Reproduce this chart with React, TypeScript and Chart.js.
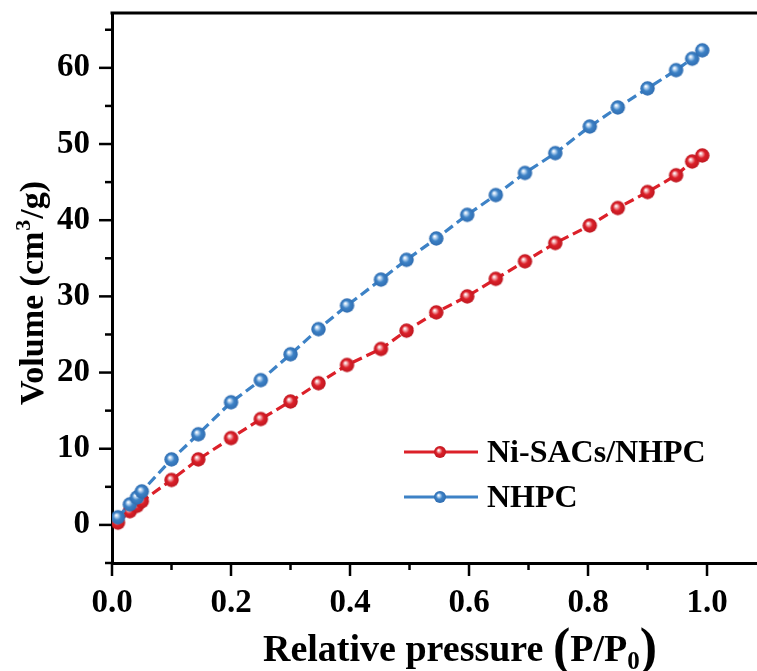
import React, { useEffect, useRef } from "react";
import { Chart, registerables } from "chart.js";

Chart.register(...registerables);

// Relative pressure (P/P0) sampling points, shared by both isotherms
const pressure = [
  0.01, 0.03, 0.042, 0.05, 0.1, 0.145, 0.2, 0.25, 0.3, 0.347, 0.395, 0.452,
  0.495, 0.545, 0.597, 0.645, 0.694, 0.745, 0.803, 0.85, 0.9, 0.948, 0.975, 0.992,
];
// Adsorbed volume (cm3/g)
const niSacsVolume = [
  0.3, 1.8, 2.5, 3.1, 5.9, 8.6, 11.4, 13.9, 16.2, 18.6, 21.0, 23.1, 25.5, 27.9,
  30.0, 32.3, 34.6, 37.0, 39.3, 41.6, 43.7, 45.9, 47.7, 48.5,
];
const nhpcVolume = [
  1.0, 2.7, 3.6, 4.4, 8.6, 11.9, 16.1, 19.0, 22.4, 25.7, 28.8, 32.2, 34.8, 37.6,
  40.7, 43.3, 46.2, 48.8, 52.3, 54.8, 57.3, 59.7, 61.2, 62.3,
];
const seriesNames = ["Ni-SACs/NHPC", "NHPC"];
const xTickValues = [0, 0.1, 0.2, 0.3, 0.4, 0.5, 0.6, 0.7, 0.8, 0.9, 1.0];
const yTickValues = [-5, 0, 5, 10, 15, 20, 25, 30, 35, 40, 45, 50, 55, 60, 65];

const RED = "#dc2029";
const BLUE = "#3d82c6";
const FONT = "'Liberation Serif', 'Times New Roman', serif";

// Shaded ball used as the marker
function sphere(base: string, light: string, dark: string, r: number) {
  const s = Math.ceil(r * 2 + 2);
  const c = document.createElement("canvas");
  c.width = s;
  c.height = s;
  const ctx = c.getContext("2d")!;
  const cx = s / 2;
  const cy = s / 2;
  const g = ctx.createRadialGradient(cx - r * 0.25, cy - r * 0.3, r * 0.05, cx, cy, r);
  g.addColorStop(0, "#ffffff");
  g.addColorStop(0.2, light);
  g.addColorStop(0.5, base);
  g.addColorStop(1, dark);
  ctx.fillStyle = g;
  ctx.beginPath();
  ctx.arc(cx, cy, r, 0, Math.PI * 2);
  ctx.fill();
  return c;
}

export default function App() {
  const ref = useRef<HTMLCanvasElement | null>(null);

  useEffect(() => {
    document.body.style.margin = "0";
    const canvas = ref.current;
    if (!canvas) return;

    const redBall = sphere(RED, "#f2a9ad", "#bd1720", 7.2);
    const blueBall = sphere(BLUE, "#b4d2f0", "#2f6cb0", 7.2);
    const redBallSmall = sphere(RED, "#f2a9ad", "#bd1720", 6);
    const blueBallSmall = sphere(BLUE, "#b4d2f0", "#2f6cb0", 6);

    const frame = {
      id: "frame",
      afterDraw(chart: any) {
        const { ctx, chartArea } = chart;
        const xs = chart.scales.x;
        const ys = chart.scales.y;
        ctx.save();
        ctx.strokeStyle = "#000";
        ctx.lineWidth = 3;
        // top border
        ctx.beginPath();
        ctx.moveTo(chartArea.left - 1.5, chartArea.top);
        ctx.lineTo(chartArea.right, chartArea.top);
        ctx.stroke();
        // x tick marks, outward
        ctx.lineWidth = 2.5;
        xTickValues.forEach((v) => {
          const major = Math.round(v * 10) % 2 === 0;
          const px = xs.getPixelForValue(v);
          ctx.beginPath();
          ctx.moveTo(px, chartArea.bottom);
          ctx.lineTo(px, chartArea.bottom + (major ? 13 : 7));
          ctx.stroke();
        });
        // y tick marks, outward
        yTickValues.forEach((v) => {
          const major = v % 10 === 0;
          const py = ys.getPixelForValue(v);
          ctx.beginPath();
          ctx.moveTo(chartArea.left, py);
          ctx.lineTo(chartArea.left - (major ? 13 : 7), py);
          ctx.stroke();
        });

        // y axis title with superscript
        ctx.fillStyle = "#000";
        ctx.save();
        ctx.translate(43, 293);
        ctx.rotate(-Math.PI / 2);
        ctx.textBaseline = "alphabetic";
        const big = `bold 34px ${FONT}`;
        const sup = `bold 22px ${FONT}`;
        ctx.font = big;
        const p1 = "Volume (cm";
        const p3 = "/g)";
        const w1 = ctx.measureText(p1).width;
        const w3 = ctx.measureText(p3).width;
        ctx.font = sup;
        const w2 = ctx.measureText("3").width + 2;
        const total = w1 + w2 + w3;
        let x = -total / 2;
        ctx.font = big;
        ctx.fillText(p1, x, 0);
        x += w1;
        ctx.font = sup;
        ctx.fillText("3", x + 1, -13);
        x += w2;
        ctx.font = big;
        ctx.fillText(p3, x, 0);
        ctx.restore();

        // x axis title with large parentheses and subscript
        ctx.save();
        ctx.textBaseline = "alphabetic";
        const xt = `bold 38px ${FONT}`;
        const paren = `bold 52px ${FONT}`;
        const sub = `bold 25px ${FONT}`;
        const parts: [string, string, number][] = [
          ["Relative pressure ", xt, 0],
          ["(", paren, 3],
          ["P/P", xt, 0],
          ["0", sub, 8],
          [")", paren, 3],
        ];
        let tw = 0;
        parts.forEach(([t, f]) => {
          ctx.font = f;
          tw += ctx.measureText(t).width;
        });
        let tx = 460 - tw / 2;
        const base = 661;
        parts.forEach(([t, f, dy]) => {
          ctx.font = f;
          ctx.fillText(t, tx, base + dy);
          tx += ctx.measureText(t).width;
        });
        ctx.restore();

        // legend
        const rows: [string, string, HTMLCanvasElement, number][] = [
          [seriesNames[0], RED, redBallSmall, 452],
          [seriesNames[1], BLUE, blueBallSmall, 497],
        ];
        rows.forEach(([label, color, ball, y]) => {
          ctx.strokeStyle = color;
          ctx.lineWidth = 3;
          ctx.beginPath();
          ctx.moveTo(404, y);
          ctx.lineTo(478, y);
          ctx.stroke();
          ctx.drawImage(ball, 440 - ball.width / 2, y - ball.height / 2);
          ctx.fillStyle = "#000";
          ctx.font = `bold 32px ${FONT}`;
          ctx.textBaseline = "middle";
          ctx.fillText(label, 487, y + 2);
        });
        ctx.restore();
      },
    };

    const toPoints = (ys: number[]) => pressure.map((p, i) => ({ x: p, y: ys[i] }));

    const chart = new Chart(canvas, {
      type: "line",
      data: {
        datasets: [
          {
            label: seriesNames[0],
            data: toPoints(niSacsVolume),
            borderColor: RED,
            borderWidth: 3.2,
            borderDash: [10, 5],
            pointStyle: redBall as any,
            pointRadius: 7.2,
            tension: 0,
            order: 2,
          },
          {
            label: seriesNames[1],
            data: toPoints(nhpcVolume),
            borderColor: BLUE,
            borderWidth: 3.2,
            borderDash: [10, 5],
            pointStyle: blueBall as any,
            pointRadius: 7.2,
            tension: 0,
            order: 1,
          },
        ],
      },
      options: {
        animation: false,
        responsive: true,
        maintainAspectRatio: false,
        layout: { autoPadding: false, padding: { top: 13, right: 0, left: 0, bottom: 0 } },
        plugins: {
          legend: { display: false },
          tooltip: { enabled: false },
        },
        scales: {
          x: {
            type: "linear",
            min: 0,
            max: 1.084,
            afterFit(scale: any) {
              scale.height = 108;
              scale.paddingLeft = 0;
              scale.paddingRight = 0;
            },
            grid: { display: false, drawTicks: true, tickLength: 13 },
            border: { display: true, color: "#000", width: 3 },
            ticks: {
              stepSize: 0.1,
              includeBounds: false,
              autoSkip: false,
              maxRotation: 0,
              padding: 8,
              color: "#000",
              font: { family: FONT, size: 33, weight: "bold" },
              callback: (v: any) =>
                Math.round(Number(v) * 10) % 2 === 0 ? Number(v).toFixed(1) : "",
            },
          },
          y: {
            type: "linear",
            min: -5,
            max: 67.2,
            afterFit(scale: any) {
              scale.width = 112;
              scale.paddingTop = 0;
              scale.paddingBottom = 0;
            },
            grid: { display: false, drawTicks: true, tickLength: 13 },
            border: { display: true, color: "#000", width: 3 },
            ticks: {
              stepSize: 5,
              includeBounds: false,
              autoSkip: false,
              padding: 9,
              color: "#000",
              font: { family: FONT, size: 33, weight: "bold" },
              callback: (v: any) => (Math.round(Number(v)) % 10 === 0 ? String(v) : ""),
            },
          },
        },
      },
      plugins: [frame],
    });

    return () => chart.destroy();
  }, []);

  return (
    <div style={{ width: 757, height: 671, position: "relative", background: "#fff" }}>
      <canvas ref={ref} />
    </div>
  );
}
